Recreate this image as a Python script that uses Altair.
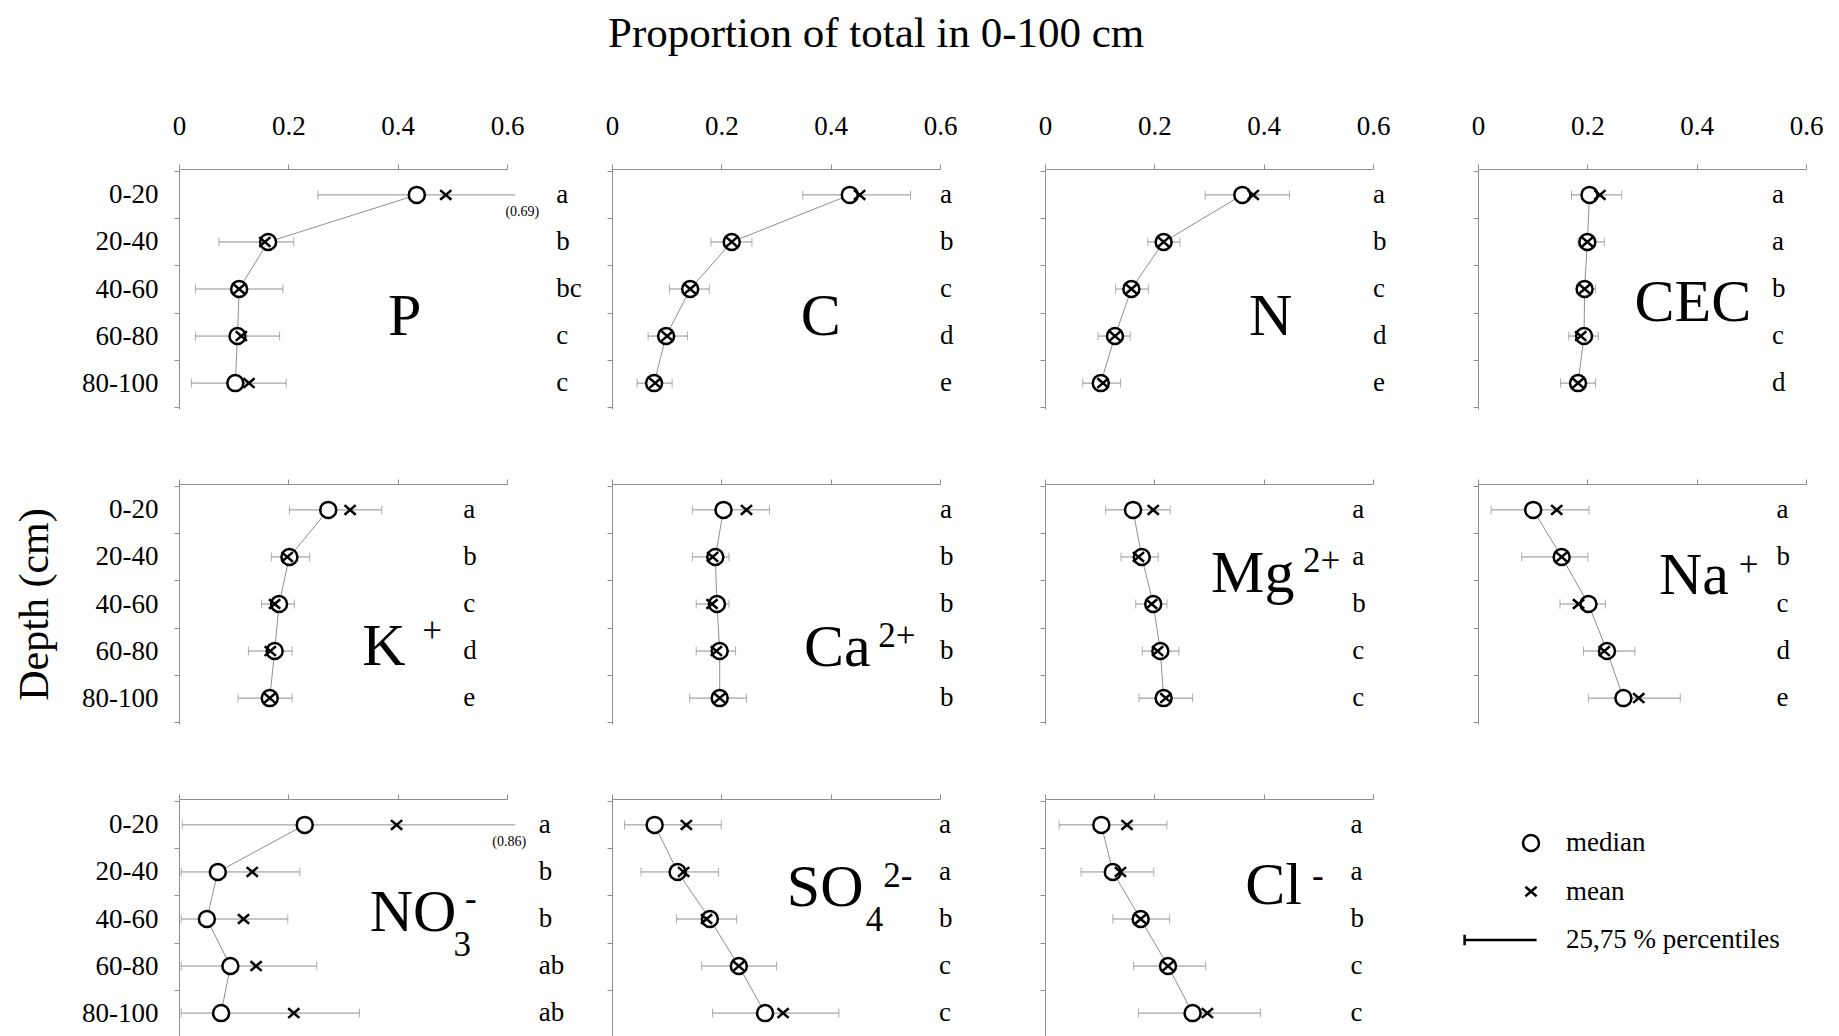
import altair as alt
import pandas as pd

# ---------------- data ----------------
depths = ["0-20", "20-40", "40-60", "60-80", "80-100"]
elements = ["P", "C", "N", "CEC", "K", "Ca", "Mg", "Na", "NO3", "SO4", "Cl"]

median = {
    "P":   [0.435, 0.163, 0.110, 0.107, 0.103],
    "C":   [0.435, 0.219, 0.143, 0.099, 0.077],
    "N":   [0.361, 0.217, 0.158, 0.128, 0.102],
    "CEC": [0.204, 0.200, 0.195, 0.194, 0.183],
    "K":   [0.273, 0.202, 0.183, 0.175, 0.166],
    "Ca":  [0.204, 0.189, 0.192, 0.197, 0.197],
    "Mg":  [0.161, 0.177, 0.198, 0.211, 0.217],
    "Na":  [0.101, 0.153, 0.202, 0.236, 0.266],
    "NO3": [0.230, 0.071, 0.051, 0.094, 0.077],
    "SO4": [0.078, 0.120, 0.179, 0.232, 0.280],
    "Cl":  [0.103, 0.124, 0.175, 0.225, 0.270],
}
mean = {
    "P":   [0.488, 0.157, 0.110, 0.114, 0.128],
    "C":   [0.453, 0.219, 0.143, 0.101, 0.079],
    "N":   [0.381, 0.217, 0.158, 0.128, 0.106],
    "CEC": [0.223, 0.200, 0.195, 0.188, 0.183],
    "K":   [0.313, 0.198, 0.175, 0.167, 0.166],
    "Ca":  [0.246, 0.184, 0.183, 0.191, 0.197],
    "Mg":  [0.198, 0.171, 0.195, 0.206, 0.221],
    "Na":  [0.144, 0.153, 0.184, 0.231, 0.294],
    "NO3": [0.398, 0.134, 0.118, 0.141, 0.210],
    "SO4": [0.136, 0.131, 0.173, 0.232, 0.313],
    "Cl":  [0.150, 0.138, 0.175, 0.225, 0.297],
}
q25 = {
    "P":   [0.254, 0.073, 0.030, 0.030, 0.023],
    "C":   [0.349, 0.181, 0.105, 0.066, 0.046],
    "N":   [0.293, 0.188, 0.129, 0.097, 0.069],
    "CEC": [0.171, 0.183, 0.180, 0.166, 0.151],
    "K":   [0.202, 0.169, 0.151, 0.127, 0.108],
    "Ca":  [0.147, 0.147, 0.154, 0.154, 0.142],
    "Mg":  [0.111, 0.139, 0.166, 0.178, 0.172],
    "Na":  [0.024, 0.080, 0.150, 0.193, 0.202],
    "NO3": [0.006, 0.004, 0.004, 0.004, 0.004],
    "SO4": [0.023, 0.053, 0.118, 0.164, 0.184],
    "Cl":  [0.026, 0.066, 0.124, 0.162, 0.171],
}
q75 = {
    "P":   [0.690, 0.210, 0.190, 0.184, 0.196],
    "C":   [0.546, 0.256, 0.178, 0.138, 0.110],
    "N":   [0.447, 0.247, 0.189, 0.156, 0.138],
    "CEC": [0.263, 0.231, 0.215, 0.220, 0.215],
    "K":   [0.371, 0.239, 0.211, 0.207, 0.207],
    "Ca":  [0.288, 0.214, 0.214, 0.226, 0.246],
    "Mg":  [0.229, 0.207, 0.223, 0.245, 0.270],
    "Na":  [0.203, 0.201, 0.233, 0.287, 0.370],
    "NO3": [0.860, 0.221, 0.199, 0.252, 0.330],
    "SO4": [0.200, 0.195, 0.228, 0.301, 0.415],
    "Cl":  [0.223, 0.199, 0.228, 0.294, 0.394],
}
letters = {
    "P":   ["a", "b", "bc", "c", "c"],
    "C":   ["a", "b", "c", "d", "e"],
    "N":   ["a", "b", "c", "d", "e"],
    "CEC": ["a", "a", "b", "c", "d"],
    "K":   ["a", "b", "c", "d", "e"],
    "Ca":  ["a", "b", "b", "b", "b"],
    "Mg":  ["a", "a", "b", "c", "c"],
    "Na":  ["a", "b", "c", "d", "e"],
    "NO3": ["a", "b", "b", "ab", "ab"],
    "SO4": ["a", "a", "b", "c", "c"],
    "Cl":  ["a", "a", "b", "c", "c"],
}
stat_names = ["median", "mean", "25,75 % percentiles"]
x_ticks = [0, 0.2, 0.4, 0.6]

# ---------------- layout / style ----------------
FONT = "Liberation Serif"
GRAY = "#8f8f8f"
W, H = 328, 240
XMAX_DRAW = 0.615
SUP = 35

LETTER_X = {"P": 0.69, "C": 0.60, "N": 0.60, "CEC": 0.538, "K": 0.52, "Ca": 0.60,
            "Mg": 0.562, "Na": 0.546, "NO3": 0.658, "SO4": 0.598, "Cl": 0.559}
NOTE_X = {"P": 0.628, "NO3": 0.604}
# (text, x in data units, y in px inside the panel, font size)
LABELS = {
    "P":   [("P", 0.413, 166, 60)],
    "C":   [("C", 0.382, 166, 60)],
    "N":   [("N", 0.413, 166, 60)],
    "CEC": [("CEC", 0.393, 152, 60)],
    "K":   [("K", 0.375, 181, 60), ("+", 0.463, 147, SUP)],
    "Ca":  [("Ca", 0.412, 182, 60), ("2+", 0.521, 152, SUP)],
    "Mg":  [("Mg", 0.380, 108, 60), ("2+", 0.506, 77, SUP)],
    "Na":  [("Na", 0.395, 110, 60), ("+", 0.495, 81, SUP)],
    "NO3": [("NO", 0.428, 132, 60), ("3", 0.518, 146, SUP), ("-", 0.534, 100, SUP)],
    "SO4": [("SO", 0.390, 107, 60), ("4", 0.480, 121, SUP), ("2-", 0.523, 77, SUP)],
    "Cl":  [("Cl", 0.418, 105, 60), ("-", 0.499, 77, SUP)],
}

shape_range = [
    "circle",
    "M-0.7,-0.6L0.7,0.6M-0.7,0.6L0.7,-0.6",
    "M-8.3,-0.65L-8.3,0.65M-8.3,0L0.7,0",
]
shape_scale = alt.Scale(domain=stat_names, range=shape_range)
POINT_STYLE = dict(size=256, fill="white", stroke="black", strokeWidth=2.5,
                   opacity=1, fillOpacity=1)


def make_panel(i, el):
    row, col = divmod(i, 4)
    x_scale = alt.Scale(domain=[0, 0.6], nice=False, zero=False)
    y_scale = alt.Scale(type="band", domain=depths, paddingInner=0, paddingOuter=0.05)
    x_axis = alt.Axis(orient="top", values=x_ticks, format="~g", labels=(row == 0),
                      labelFlush=False, labelPadding=24, tickSize=5, grid=False)
    ykw = dict(orient="left", labels=(col == 0), tickBand="extent", tickSize=5,
               labelPadding=16, grid=False)
    ytitle = None
    if row == 1 and col == 0:
        ytitle = "Depth (cm)"
        ykw.update(titleFontSize=42, titleFont=FONT, titleFontWeight="normal",
                   titlePadding=25, titleColor="black")
    y_axis = alt.Axis(**ykw)

    def X(field):
        return alt.X(field, type="quantitative", scale=x_scale, axis=x_axis, title=None)

    def Y():
        return alt.Y("depth:N", scale=y_scale, axis=y_axis, title=ytitle)

    summ = pd.DataFrame({
        "depth": depths, "idx": list(range(5)),
        "median": median[el], "mean": mean[el],
        "lo": q25[el], "hi": q75[el], "letter": letters[el],
    })
    pts = pd.DataFrame({
        "depth": depths * 2,
        "stat": [stat_names[0]] * 5 + [stat_names[1]] * 5,
        "value": median[el] + mean[el],
    })

    bars = alt.Chart(summ).transform_calculate(
        hi_draw=f"min(datum.hi, {XMAX_DRAW})"
    ).mark_rule(color=GRAY, strokeWidth=1).encode(
        x=X("lo"), x2=alt.X2("hi_draw:Q"), y=Y())
    cap_lo = alt.Chart(summ).mark_tick(color=GRAY, thickness=1, size=9).encode(x=X("lo"), y=Y())
    cap_hi = alt.Chart(summ).transform_filter("datum.hi <= 0.6").mark_tick(
        color=GRAY, thickness=1, size=9).encode(x=X("hi"), y=Y())
    line = alt.Chart(summ).mark_line(color=GRAY, strokeWidth=1).encode(
        x=X("median"), y=Y(), order=alt.Order("idx:Q"))
    points = alt.Chart(pts).mark_point(**POINT_STYLE).encode(
        x=X("value"), y=Y(),
        shape=alt.Shape("stat:N", scale=shape_scale, legend=None),
    )
    lets = alt.Chart(summ).mark_text(
        align="left", baseline="middle", font=FONT, fontSize=27, color="black"
    ).encode(x=alt.datum(LETTER_X[el]), y=Y(), text="letter:N")

    layers = [bars, cap_lo, cap_hi, line, points, lets]

    if el in NOTE_X:
        note = alt.Chart(summ).transform_filter("datum.hi > 0.6").transform_calculate(
            note="'(' + format(datum.hi, '.2f') + ')'"
        ).mark_text(font=FONT, fontSize=14, dy=17, color="black").encode(
            x=alt.datum(NOTE_X[el]), y=Y(), text="note:N")
        layers.append(note)

    for (t, xv, yv, fs) in LABELS[el]:
        lab = alt.Chart(pd.DataFrame({"t": [t]})).mark_text(
            font=FONT, fontSize=fs, align="center",
            baseline=("alphabetic" if fs > 40 else "middle"), color="black"
        ).encode(x=alt.datum(xv), y=alt.value(yv), text="t:N")
        layers.append(lab)

    return alt.layer(*layers).properties(width=W, height=H)


def make_key():
    key = pd.DataFrame({"stat": stat_names})
    ky = alt.Y("stat:N", scale=alt.Scale(type="point", domain=stat_names, range=[44, 141],
                                         padding=0),
               axis=None)
    sym = alt.Chart(key).mark_point(**POINT_STYLE).encode(
        x=alt.value(53), y=ky, shape=alt.Shape("stat:N", scale=shape_scale, legend=None))
    txt = alt.Chart(key).mark_text(
        align="left", baseline="middle", font=FONT, fontSize=27, color="black"
    ).encode(x=alt.value(88), y=ky, text="stat:N")
    return alt.layer(sym, txt).properties(width=W, height=H)


panels = [make_panel(i, el) for i, el in enumerate(elements)] + [make_key()]

chart = alt.concat(
    *panels, columns=4, spacing={"row": 75, "column": 105}, bounds="flush",
    title=alt.TitleParams("Proportion of total in 0-100 cm", font=FONT, fontSize=43,
                          fontWeight="normal", anchor="middle", dx=-42, offset=56,
                          color="black"),
).configure_view(stroke=None).configure_axis(
    domainColor=GRAY, tickColor=GRAY, domainWidth=1, tickWidth=1,
    labelFont=FONT, labelFontSize=27, labelColor="black", grid=False,
)

chart.save("out.html", embed_options={"renderer": "svg", "actions": False})
